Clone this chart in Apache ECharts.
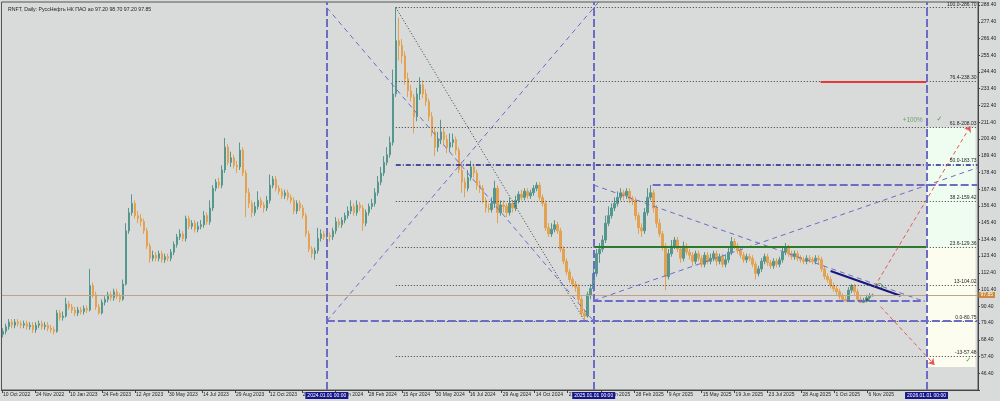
<!DOCTYPE html>
<html><head><meta charset="utf-8">
<script src="https://cdn.jsdelivr.net/npm/echarts@6/dist/echarts.min.js"></script>
<style>html,body{margin:0;padding:0;background:#d9dbdb;}#c{width:1000px;height:401px;}</style>
</head><body><div id="c"></div>
<script>
// ---------- data ----------
const chartTitle = 'RNFT, Daily: РуссНефть НК ПАО ао 97.20 98.70 97.20 97.85';
const xLabels = ['10 Oct 2022','24 Nov 2022','10 Jan 2023','24 Feb 2023','12 Apr 2023','30 May 2023','14 Jul 2023','29 Aug 2023','12 Oct 2023','27 Nov 2023','12 Jan 2024','28 Feb 2024','15 Apr 2024','30 May 2024','16 Jul 2024','29 Aug 2024','14 Oct 2024','27 Nov 2024','14 Jan 2025','28 Feb 2025','9 Apr 2025','15 May 2025','19 Jun 2025','23 Jul 2025','28 Aug 2025','1 Oct 2025','6 Nov 2025'];
const xLabelBars = [0,33,67,100,133,166,200,233,267,300,333,366,400,433,467,500,533,566,600,633,666,700,733,766,800,833,866];
// candles: [open, close, low, high]
const ohlc = [
[72,74,70,76],[74,77,72,79],[77,80,75,82],[80,78,76,82],[78,80,76,82],[80,79,77,82],[79,78,76,81],[78,79,76,81],[79,77,75,81],[77,78,75,80],
[78,75,73,80],[75,78,73,80],[78,79,76,81],[79,77,75,81],[77,78,75,80],[78,76,74,80],[76,75,73,78],[75,74,72,77],[74,86,73,88],[86,83,81,88],
[83,84,81,87],[84,92,83,96],[92,90,88,94],[90,88,86,92],[88,86,84,90],[86,88,84,90],[88,87,85,90],[87,89,85,91],[89,88,86,91],[88,104,87,115],
[104,98,96,106],[98,90,88,100],[90,86,85,92],[86,93,85,95],[93,95,91,97],[95,98,93,100],[98,96,94,100],[96,100,94,102],[100,97,95,102],[97,95,93,99],
[95,105,94,108],[105,140,104,145],[140,152,138,155],[152,158,150,164],[158,150,148,160],[150,148,145,153],[148,146,143,151],[146,140,138,148],[140,130,128,142],[130,122,119,132],
[122,124,120,127],[124,122,120,126],[122,125,120,127],[125,121,119,127],[121,123,119,125],[123,122,120,125],[122,126,120,128],[126,131,124,133],[131,136,129,138],[136,138,134,141],
[138,135,133,140],[135,148,133,150],[148,143,141,150],[143,145,141,147],[145,141,139,147],[141,143,139,146],[143,144,141,147],[144,150,142,153],[150,146,144,152],[146,155,144,160],
[155,168,153,170],[168,172,166,174],[172,170,168,175],[170,180,168,183],[180,195,178,201],[195,185,183,197],[185,188,182,192],[188,183,181,190],[183,182,178,186],[182,193,180,198],
[193,178,176,195],[178,165,149,180],[165,158,155,168],[158,152,149,160],[152,156,150,159],[156,160,154,166],[160,157,155,162],[157,155,152,159],[155,160,153,163],[160,170,158,177],
[170,174,168,176],[174,168,166,176],[168,166,164,170],[166,163,161,168],[163,165,161,167],[165,162,160,167],[162,160,158,164],[160,153,151,162],[153,158,151,160],[158,155,153,160],
[155,150,148,157],[150,138,136,152],[138,128,126,140],[128,125,122,130],[125,127,121,129],[127,135,125,142],[135,138,133,141],[138,136,134,140],[136,137,134,139],[137,136,133,139],
[136,140,134,142],[140,146,138,149],[146,144,142,148],[144,147,142,149],[147,150,145,152],[150,153,148,156],[153,156,151,160],[156,152,150,158],[152,157,150,160],[157,155,153,159],
[155,145,140,157],[145,152,143,154],[152,156,150,158],[156,158,154,161],[158,165,156,168],[165,172,163,176],[172,178,170,182],[178,185,176,189],[185,190,183,195],[190,198,188,202],
[198,230,196,246],[230,265,228,286.7],[265,262,252,280],[262,255,250,266],[255,240,236,258],[240,232,228,244],[232,228,225,236],[228,215,204,230],[215,230,212,234],[230,236,226,241],
[236,230,227,239],[230,225,222,233],[225,215,212,227],[215,205,202,218],[205,195,189,208],[195,200,192,205],[200,205,197,213],[205,200,196,208],[200,195,191,203],[195,198,192,204],
[198,200,195,204],[200,193,190,202],[193,180,178,195],[180,172,165,185],[172,168,162,175],[168,175,166,180],[175,182,173,186],[182,178,175,184],[178,170,167,180],[170,168,165,173],
[168,160,158,170],[160,155,152,162],[155,154,152,158],[154,158,152,162],[158,168,155,173],[168,152,145,170],[152,157,150,160],[157,156,152,160],[156,152,149,158],[152,158,150,162],
[158,155,152,160],[155,160,153,163],[160,164,158,166],[164,162,160,167],[162,166,160,168],[166,163,161,168],[163,165,161,167],[165,168,163,170],[168,170,166,172],[170,162,160,172],
[162,158,156,164],[158,142,140,160],[142,138,136,145],[138,141,136,145],[141,144,139,147],[144,140,138,146],[140,128,126,142],[128,120,118,130],[120,113,111,122],[113,108,106,115],
[108,105,103,110],[105,103,100,107],[103,95,93,105],[95,86,84,97],[86,84,80.75,88],[84,98,83,100],[98,102,95,105],[102,112,100,115],[112,125,110,128],[125,128,119,132],
[128,134,126,137],[134,145,132,150],[145,150,143,156],[150,155,148,158],[155,158,153,162],[158,162,156,166],[162,165,160,168],[165,163,160,167],[163,166,161,168],[166,161,158,168],
[161,160,157,163],[160,150,147,162],[150,142,138,152],[142,140,136,145],[140,152,138,155],[152,162,150,168],[162,165,160,170.1],[165,155,152,167],[155,145,142,157],[145,138,136,148],
[138,130,127,140],[130,110,101,132],[110,125,108,128],[125,130,123,134],[130,134,128,136],[134,128,126,136],[128,122,119,130],[122,130,120,133],[130,126,124,132],[126,124,121,128],
[124,120,117,126],[120,125,118,127],[125,122,120,127],[122,118,116,124],[118,124,116,126],[124,120,118,126],[120,122,118,125],[122,125,120,127],[125,120,117,127],[120,123,118,125],
[123,118,116,125],[118,121,116,124],[121,126,119,130],[126,133,124,136],[133,130,128,135],[130,127,125,132],[127,124,122,129],[124,121,119,126],[121,123,119,125],[123,122,120,125],
[122,118,116,124],[118,112,108,120],[112,115,110,117],[115,120,113,122],[120,123,118,125],[123,119,117,125],[119,117,115,121],[117,120,115,122],[120,118,116,122],[118,121,116,123],
[121,126,119,130],[126,129,124,132],[129,125,123,131],[125,123,121,127],[123,125,121,127],[125,122,120,127],[122,121,119,124],[121,120,118,123],[120,122,118,124],[122,121,119,124],
[121,120,118,123],[120,122,118,124],[122,121,118,124],[121,115,113,123],[115,110,108,117],[110,108,106,112],[108,104,102,110],[104,102,100,106],[102,100,98,104],[100,97,95,102],
[97,95,93.5,99],[95,94,93.5,97],[94,101,93.5,103],[101,104,99,105],[104,100,98,105],[100,95,94,102],[95,93,92.5,97],[93,94,92.5,96],[94,96,93,98],[96,97,95,99],
[97.2,97.85,97.2,98.7]
];
const lastPrice = 97.85;
const yTicks = [46.4,57.4,68.4,79.4,90.4,101.4,112.4,123.4,134.4,145.4,156.4,167.4,178.4,189.4,200.4,211.4,222.4,233.4,244.4,255.4,266.4,277.4,288.4];
const fibNames = ['100.0','76.4','61.8','50.0','38.2','23.6','13','0.0','-13'];
const fibPrices = [286.70,238.30,208.03,183.73,159.42,129.36,104.02,80.75,57.48];
const yearNames = ['2024.01.01 00:00','2025.01.01 00:00','2026.01.01 00:00'];
const yearBars = [325,592,925];
const peakBar = 394, troughBar = 583;
const pennantTop = 170.1, pennantBottom = 94.2, pennantBar = 651, pennantEndBar = 923;
const wedgeUpEnd = 181.5;
const navyFrom = [829,113.6], navyTo = [899,97.3];
const redLevel = 238.30, redFrom = 819;
const arrowUp = [[873,103.3],[969,208.9]];
const arrowDown = [[879,90.2],[933,51.9]];
const zoneTop = 208.03, zoneMid = 129.36, zoneBottom = 50.5, zoneEndBar = 974;
const notes = [
  {text:'+100%', bar:921, price:212.4, kind:'pct'},
  {text:'✓', bar:938, price:213.6, kind:'check'},
  {text:'✓', bar:967, price:54.8, kind:'check'}
];

// ---------- build ----------
const N = 977;
const cats = new Array(N).fill('');
xLabelBars.forEach((b,i)=>{cats[b]=xLabels[i];});
const bars = new Array(N).fill('-');
ohlc.forEach((r,k)=>{bars[3*k+1]=r;});
const RIGHT = N-1;

const blue = '#6c6cc6';
const dashH = {color:blue,width:2,type:[8,3]};
const dashD = {color:blue,width:1,type:[5,4]};
const dotted = {color:'#3a3a3a',width:1,type:[1,2]};
const small = {fontFamily:'Liberation Sans',fontSize:5,color:'#1e1e1e'};

function seg(a,b,style,label,sym){
  return [{coord:a,lineStyle:style,label:label||{show:false},symbol:'none'},{coord:b,symbol:sym||'none'}];
}
const lines = [];
fibPrices.forEach((p,i)=>{
  const st = fibNames[i]==='50.0' ? {color:'#1f1f8a',width:1.5,type:[5,2,1,2]} : dotted;
  lines.push(seg([peakBar,p],[RIGHT,p],st,Object.assign({show:true,position:'insideEndTop',distance:[1,1],formatter:fibNames[i]+'-'+p.toFixed(2)},small)));
});
lines.push(seg([peakBar,fibPrices[0]],[troughBar,fibPrices[7]],dotted));
lines.push(seg([yearBars[0],fibPrices[0]],[yearBars[1],fibPrices[7]],dashD));
lines.push(seg([yearBars[0],fibPrices[7]],[597,290.4],dashD));
lines.push(seg([yearBars[0],fibPrices[7]],[RIGHT,fibPrices[7]],dashH));
lines.push(seg([yearBars[1],pennantBottom],[pennantEndBar,pennantBottom],dashH));
lines.push(seg([pennantBar,pennantTop],[RIGHT,pennantTop],dashH));
lines.push(seg([yearBars[1],pennantBottom],[RIGHT,wedgeUpEnd],dashD));
lines.push(seg([yearBars[1],pennantTop],[pennantEndBar,pennantBottom-0.6],dashD));
lines.push(seg(navyFrom,navyTo,{color:'#16167e',width:2,type:'solid'}));
lines.push(seg([yearBars[1],fibPrices[5]],[yearBars[2],fibPrices[5]],{color:'#2c7a2c',width:2,type:'solid'}));
lines.push(seg([redFrom,redLevel],[yearBars[2],redLevel],{color:'#e23a3a',width:2,type:'solid'}));
lines.push(seg(arrowUp[0],arrowUp[1],{color:'#e65656',width:1,type:[4,3]},null,'arrow'));
lines.push(seg(arrowDown[0],arrowDown[1],{color:'#e65656',width:1,type:[4,3]},null,'arrow'));
lines.push(seg([0,lastPrice],[RIGHT,lastPrice],{color:'#c2a086',width:1,type:'solid'},
  {show:true,position:'end',distance:1,formatter:lastPrice.toFixed(2),backgroundColor:'#cc8a3e',color:'#ffffff',padding:[1,2,0,2],fontFamily:'Liberation Sans',fontSize:5}));
yearBars.forEach((b,i)=>{
  lines.push({xAxis:b,lineStyle:{color:blue,width:2,type:[8,3]},symbol:'none',
    label:{show:true,position:'start',distance:2,formatter:yearNames[i],backgroundColor:'#17178a',color:'#ffffff',padding:[1,2,1,2],fontFamily:'Liberation Sans',fontSize:5}});
});

const noteData = notes.map(n=>({
  value:[n.bar,n.price], symbolSize:0,
  label: n.kind==='pct'
    ? {show:true,position:'left',distance:0,formatter:n.text,color:'#4f8f4f',fontFamily:'Liberation Sans',fontSize:6.3}
    : {show:true,position:'inside',formatter:n.text,color:'#2a8a2a',fontFamily:'DejaVu Sans',fontSize:7,fontWeight:'bold'}
}));
noteData.push({value:[878,103.8],symbol:'circle',symbolSize:5,itemStyle:{color:'transparent',borderColor:'#3f8f3f',borderWidth:1}});
noteData.push({value:[866,94.6],symbol:'rect',symbolSize:3,itemStyle:{color:'#1f6a1f'}});

const tickShow = (i,v)=>v!=='';
const option = {
  animation:false,
  backgroundColor:'#d9dbdb',
  title:{text:chartTitle,left:3,top:2,textStyle:{fontFamily:'Liberation Sans',fontSize:5.2,fontWeight:'normal',color:'#1e1e1e'}},
  grid:{left:1,right:22,top:2,bottom:11,show:true,borderColor:'#555',borderWidth:1,backgroundColor:'#d9dbdb'},
  xAxis:{type:'category',data:cats,boundaryGap:true,
    axisLine:{lineStyle:{color:'#444'}},
    axisTick:{show:true,interval:tickShow,alignWithLabel:true,length:3,lineStyle:{color:'#444'}},
    axisLabel:{interval:tickShow,align:'left',margin:2,padding:[0,0,0,1],fontFamily:'Liberation Sans',fontSize:5,color:'#1e1e1e'},
    splitLine:{show:false}},
  yAxis:{type:'value',position:'right',min:35.4,max:290.4,interval:11,scale:true,
    axisLine:{show:true,lineStyle:{color:'#444'}},
    axisTick:{show:true,length:2,lineStyle:{color:'#444'}},
    axisLabel:{margin:3,fontFamily:'Liberation Sans',fontSize:5,color:'#1e1e1e',
      formatter:v=>yTicks.some(t=>Math.abs(t-v)<0.01)?v.toFixed(2):''},
    splitLine:{show:false}},
  series:[
    {type:'line',data:[],z:1,silent:true,
      markArea:{silent:true,data:[
        [{coord:[yearBars[2],zoneTop],itemStyle:{color:'#effdf1'}},{coord:[zoneEndBar,zoneMid]}],
        [{coord:[yearBars[2],zoneMid],itemStyle:{color:'#fcfdef'}},{coord:[zoneEndBar,zoneBottom]}]
      ]}},
    {type:'candlestick',data:bars,z:2,large:false,barWidth:2,silent:true,
      itemStyle:{color:'#55978d',color0:'#e3a251',borderColor:'#55978d',borderColor0:'#e3a251',borderWidth:1}},
    {type:'line',data:[],z:3,silent:true,
      markLine:{silent:true,symbol:'none',symbolSize:6,animation:false,precision:2,label:{show:false},data:lines}},
    {type:'scatter',data:noteData,z:4,silent:true}
  ]
};
const chart = echarts.init(document.getElementById('c'),null,{renderer:'canvas'});
chart.setOption(option);
</script></body></html>
